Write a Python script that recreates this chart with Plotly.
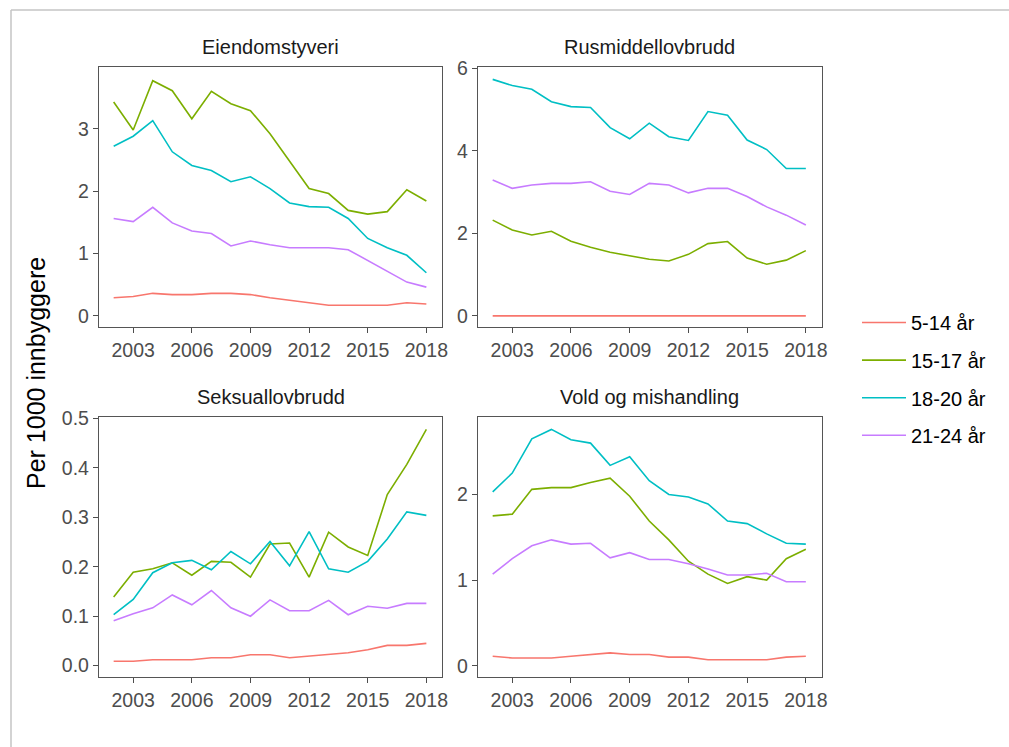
import plotly.graph_objects as go

W, H = 1009, 747

years = list(range(2002, 2019))
groups = ["5-14 år", "15-17 år", "18-20 år", "21-24 år"]
colors = ["#F8766D", "#7CAE00", "#00BFC4", "#C77CFF"]
panels = ["Eiendomstyveri", "Rusmiddellovbrudd", "Seksuallovbrudd", "Vold og mishandling"]

# Eiendomstyveri
eiendom_5_14 = [0.29, 0.31, 0.36, 0.34, 0.34, 0.36, 0.36, 0.34, 0.29, 0.25, 0.22, 0.17, 0.17, 0.17, 0.17, 0.21, 0.19]
eiendom_15_17 = [3.43, 2.98, 3.77, 3.61, 3.16, 3.60, 3.40, 3.29, 2.92, 2.49, 2.04, 1.96, 1.69, 1.63, 1.67, 2.02, 1.84]
eiendom_18_20 = [2.72, 2.88, 3.13, 2.63, 2.41, 2.33, 2.15, 2.23, 2.04, 1.81, 1.75, 1.74, 1.56, 1.24, 1.09, 0.97, 0.69]
eiendom_21_24 = [1.56, 1.51, 1.74, 1.49, 1.36, 1.32, 1.12, 1.20, 1.14, 1.09, 1.09, 1.09, 1.06, 0.89, 0.72, 0.54, 0.46]

# Rusmiddellovbrudd
rus_5_14 = [0.0] * 17
rus_15_17 = [2.32, 2.08, 1.96, 2.05, 1.81, 1.66, 1.54, 1.45, 1.37, 1.33, 1.49, 1.75, 1.80, 1.40, 1.25, 1.35, 1.58]
rus_18_20 = [5.73, 5.58, 5.49, 5.19, 5.07, 5.05, 4.56, 4.29, 4.67, 4.34, 4.25, 4.95, 4.86, 4.26, 4.03, 3.57, 3.57]
rus_21_24 = [3.29, 3.09, 3.17, 3.21, 3.21, 3.25, 3.02, 2.94, 3.21, 3.17, 2.98, 3.09, 3.09, 2.89, 2.64, 2.44, 2.20]

# Seksuallovbrudd
seks_5_14 = [0.009, 0.009, 0.012, 0.012, 0.012, 0.016, 0.016, 0.022, 0.022, 0.016, 0.019, 0.022, 0.026, 0.032, 0.041, 0.041, 0.045]
seks_15_17 = [0.139, 0.189, 0.196, 0.208, 0.183, 0.211, 0.209, 0.179, 0.246, 0.248, 0.179, 0.270, 0.240, 0.223, 0.346, 0.407, 0.478]
seks_18_20 = [0.103, 0.134, 0.188, 0.208, 0.213, 0.194, 0.231, 0.206, 0.251, 0.202, 0.271, 0.196, 0.189, 0.211, 0.256, 0.311, 0.304]
seks_21_24 = [0.091, 0.105, 0.117, 0.143, 0.123, 0.152, 0.117, 0.100, 0.133, 0.111, 0.111, 0.132, 0.103, 0.120, 0.116, 0.126, 0.126]

# Vold og mishandling
vold_5_14 = [0.11, 0.09, 0.09, 0.09, 0.11, 0.13, 0.15, 0.13, 0.13, 0.10, 0.10, 0.07, 0.07, 0.07, 0.07, 0.10, 0.11]
vold_15_17 = [1.75, 1.77, 2.06, 2.08, 2.08, 2.14, 2.19, 1.98, 1.69, 1.47, 1.22, 1.07, 0.96, 1.04, 1.00, 1.25, 1.36]
vold_18_20 = [2.03, 2.25, 2.65, 2.76, 2.64, 2.60, 2.34, 2.44, 2.16, 2.00, 1.97, 1.89, 1.69, 1.66, 1.54, 1.43, 1.42]
vold_21_24 = [1.07, 1.25, 1.40, 1.47, 1.42, 1.43, 1.26, 1.32, 1.24, 1.24, 1.19, 1.13, 1.06, 1.06, 1.08, 0.98, 0.98]

x_ticks = [2003, 2006, 2009, 2012, 2015, 2018]
y_ticks = [[0, 1, 2, 3], [0, 2, 4, 6], [0.0, 0.1, 0.2, 0.3, 0.4, 0.5], [0, 1, 2]]
y_ranges = [[-0.18, 3.99], [-0.27, 6.03], [-0.023, 0.503], [-0.132, 2.905]]
x_range = [2001.25, 2018.8]

data = [
    [eiendom_5_14, eiendom_15_17, eiendom_18_20, eiendom_21_24],
    [rus_5_14, rus_15_17, rus_18_20, rus_21_24],
    [seks_5_14, seks_15_17, seks_18_20, seks_21_24],
    [vold_5_14, vold_15_17, vold_18_20, vold_21_24],
]

# panel pixel boxes (left, right, top, bottom)
boxes = [(99, 442, 67, 327), (478, 821.5, 67, 327), (99, 442, 417, 677), (478, 821.5, 417, 677)]

FONT = "Liberation Sans, Arial"

fig = go.Figure()
for p in range(4):
    ax = "" if p == 0 else str(p + 1)
    for g in range(4):
        fig.add_trace(go.Scatter(
            x=years, y=data[p][g], mode="lines", name=groups[g],
            line=dict(color=colors[g], width=1.6),
            legendgroup=groups[g], showlegend=(p == 0),
            xaxis="x" + ax, yaxis="y" + ax,
        ))

axis_common = dict(
    showline=True, mirror=True, linecolor="#555555", linewidth=1.4,
    ticks="outside", ticklen=5, tickwidth=1.2, tickcolor="#4d4d4d",
    showgrid=False, zeroline=False, automargin=False,
    tickfont=dict(family=FONT, size=19.5, color="#4D4D4D"),
)

layout = {}
for p, (l, r, t, b) in enumerate(boxes):
    ax = "" if p == 0 else str(p + 1)
    layout["xaxis" + ax] = dict(
        axis_common, domain=[l / W, r / W], range=x_range, tickvals=x_ticks,
        anchor="y" + ax,
    )
    layout["yaxis" + ax] = dict(
        axis_common, domain=[1 - b / H, 1 - t / H], range=y_ranges[p],
        tickvals=y_ticks[p], tickformat=".1f" if p == 2 else "d",
        anchor="x" + ax,
    )
    fig.add_annotation(
        text=panels[p], x=(l + r) / 2 / W, y=1 - (t - 20) / H,
        xref="paper", yref="paper", xanchor="center", yanchor="middle",
        showarrow=False, font=dict(family=FONT, size=20, color="#1A1A1A"),
    )

fig.add_annotation(
    text="Per 1000 innbyggere", x=36 / W, y=1 - 373 / H, xref="paper", yref="paper",
    xanchor="center", yanchor="middle", textangle=-90, showarrow=False,
    font=dict(family=FONT, size=25, color="#000000"),
)

# outer frame lines
fig.add_shape(type="line", xref="paper", yref="paper", x0=11 / W, x1=11 / W, y0=0, y1=1 - 10 / H,
              line=dict(color="#c4c4c4", width=1.5))
fig.add_shape(type="line", xref="paper", yref="paper", x0=11 / W, x1=1, y0=1 - 10 / H, y1=1 - 10 / H,
              line=dict(color="#c4c4c4", width=1.5))

fig.update_layout(
    template="none",
    width=W, height=H, margin=dict(l=0, r=0, t=0, b=0, autoexpand=False),
    plot_bgcolor="white", paper_bgcolor="white",
    legend=dict(
        x=857 / W, y=1 - 379 / H, xanchor="left", yanchor="middle",
        font=dict(family=FONT, size=20, color="#000000"),
        itemwidth=44, tracegroupgap=8.6, traceorder="grouped",
        bgcolor="rgba(0,0,0,0)", borderwidth=0,
    ),
    **layout,
)

fig.write_html(
    "out.html",
    config={"displayModeBar": False},
    post_script="document.body.style.margin='0';document.body.style.overflow='hidden';",
)
